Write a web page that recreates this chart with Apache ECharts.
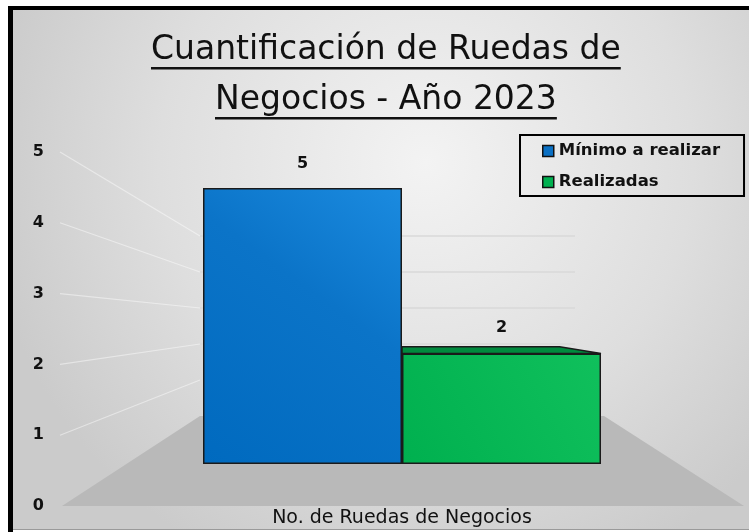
<!DOCTYPE html>
<html>
<head>
<meta charset="utf-8">
<script src="https://cdn.jsdelivr.net/npm/echarts@6/dist/echarts.min.js"></script>
<style>
  html, body { margin: 0; padding: 0; background: #ffffff; }
  #chart { width: 749px; height: 532px; }
</style>
</head>
<body>
<div id="chart"></div>
<script>
// ---- data ----
const categories = ['No. de Ruedas de Negocios'];
const seriesNames = ['Mínimo a realizar', 'Realizadas'];
const minimoValues = [5];
const realizadasValues = [2];
const yTicks = [0, 1, 2, 3, 4, 5];
const titleLines = ['Cuantificación de Ruedas de', 'Negocios - Año 2023'];

// ---- layout / style ----
const FONT = '"DejaVu Sans", sans-serif';
const TEXT = '#111111';
const yMin = yTicks[0], yMax = yTicks[yTicks.length - 1], yStep = yTicks[1] - yTicks[0];
const titleSize = 33;
const titleCenter = 386;

// label axis (left wall front edge)
const axisGrid = { left: 60, top: 152, width: 10, height: 354 };
// bar plot
const barGrid = { left: 203, top: 188, width: 398, height: 276 };
// back wall
const wallGrid = { left: 200, top: 236, width: 375, height: 180 };

function textWidth(str, font) {
  const ctx = document.createElement('canvas').getContext('2d');
  ctx.font = font;
  return ctx.measureText(str).width;
}
const titleWidths = titleLines.map(t => textWidth(t, 'normal ' + titleSize + 'px "DejaVu Sans"'));
const titleTops = [34, 84];
const underlineY = [68, 118];

const chart = echarts.init(document.getElementById('chart'), null, { renderer: 'canvas' });

const blueFill = new echarts.graphic.LinearGradient(0, 1, 1, 0, [
  { offset: 0, color: '#006abf' },
  { offset: 0.6, color: '#0b74c8' },
  { offset: 1, color: '#1b8be0' }
]);
const greenFill = new echarts.graphic.LinearGradient(0, 1, 1, 0, [
  { offset: 0, color: '#00b04f' },
  { offset: 1, color: '#10c05c' }
]);
const topFaceColors = ['#0a5fa8', '#008a3e'];

// top faces of the boxes (shallower the closer the bar is to eye level)
const topFaceData = [
  [0, minimoValues[0], 0],
  [0, realizadasValues[0], 1]
];

const bgFill = new echarts.graphic.RadialGradient(0.55, 0.3, 0.85, [
  { offset: 0, color: '#f3f3f3' },
  { offset: 0.6, color: '#dedede' },
  { offset: 1, color: '#cbcbcb' }
]);

const option = {
  backgroundColor: '#ffffff',
  animation: false,
  title: titleLines.map((t, i) => ({
    text: t,
    left: Math.round(titleCenter - titleWidths[i] / 2),
    top: titleTops[i],
    padding: 0,
    textStyle: { fontFamily: FONT, fontSize: titleSize, fontWeight: 'normal', color: TEXT }
  })),
  legend: {
    orient: 'vertical',
    left: 520,
    top: 135,
    padding: [6, 24, 4, 22],
    itemGap: 11,
    itemWidth: 11,
    itemHeight: 11,
    icon: 'rect',
    borderColor: '#000000',
    borderWidth: 2,
    textStyle: { fontFamily: FONT, fontSize: 16.5, fontWeight: 'bold', color: TEXT, lineHeight: 20 },
    data: [
      { name: seriesNames[0], itemStyle: { color: '#0a70c4', borderColor: '#111', borderWidth: 1.5 } },
      { name: seriesNames[1], itemStyle: { color: '#00b050', borderColor: '#111', borderWidth: 1.5 } }
    ]
  },
  grid: [
    Object.assign({ containLabel: false }, axisGrid),
    Object.assign({ containLabel: false }, barGrid),
    Object.assign({ containLabel: false }, wallGrid)
  ],
  xAxis: [
    { gridIndex: 0, type: 'value', show: false },
    {
      gridIndex: 1, type: 'category', data: categories,
      axisLine: { show: false }, axisTick: { show: false },
      axisLabel: { fontFamily: FONT, fontSize: 19, color: TEXT, margin: 45 }
    },
    { gridIndex: 2, type: 'value', show: false }
  ],
  yAxis: [
    {
      gridIndex: 0, type: 'value', min: yMin, max: yMax, interval: yStep,
      axisLine: { show: false }, axisTick: { show: false }, splitLine: { show: false },
      axisLabel: { fontFamily: FONT, fontSize: 16, fontWeight: 'bold', color: TEXT, margin: 16 }
    },
    { gridIndex: 1, type: 'value', min: yMin, max: yMax, show: false },
    {
      gridIndex: 2, type: 'value', min: yMin, max: yMax, interval: yStep,
      axisLine: { show: false }, axisTick: { show: false }, axisLabel: { show: false },
      splitLine: { show: true, lineStyle: { color: '#d9d9d9', width: 1.5 } }
    }
  ],
  series: [
    {
      name: seriesNames[0], type: 'bar', xAxisIndex: 1, yAxisIndex: 1,
      data: minimoValues, barGap: '0%', barCategoryGap: '0%', z: 3,
      itemStyle: { color: blueFill, borderColor: '#1a1a1a', borderWidth: 1.5 },
      label: { show: true, position: 'top', distance: 16, fontFamily: FONT, fontSize: 16, fontWeight: 'bold', color: TEXT }
    },
    {
      name: seriesNames[1], type: 'bar', xAxisIndex: 1, yAxisIndex: 1,
      data: realizadasValues, barGap: '0%', barCategoryGap: '0%', z: 3,
      itemStyle: { color: greenFill, borderColor: '#1a1a1a', borderWidth: 1.5 },
      label: { show: true, position: 'top', distance: 18, fontFamily: FONT, fontSize: 16, fontWeight: 'bold', color: TEXT }
    },
    {
      type: 'custom', xAxisIndex: 1, yAxisIndex: 1, z: 2, silent: true,
      data: topFaceData,
      renderItem: function (params, api) {
        const v = api.value(1);
        const depth = (yMax - v) * 2.3;
        if (depth <= 0) return null;
        const c = api.coord([api.value(0), v]);
        const w = api.size([1, 0])[0];
        const slot = api.value(2);
        const x0 = c[0] - w / 2 + slot * w / 2;
        const x1 = x0 + w / 2;
        return {
          type: 'polygon',
          shape: { points: [[x0, c[1]], [x0, c[1] - depth], [x1 - 6 * depth, c[1] - depth], [x1, c[1]]] },
          style: { fill: topFaceColors[slot], stroke: '#1a1a1a', lineWidth: 1.5 }
        };
      }
    }
  ],
  graphic: []
};

chart.setOption(option);

// frame, floor, side-wall gridlines and title underlines
const px = (axis, v) => chart.convertToPixel({ yAxisIndex: axis }, v);
const frontX = axisGrid.left;
const backX = wallGrid.left;
const floorFront = px(0, yMin), floorBack = px(2, yMin);
const floorSlope = (backX - frontX) / (floorFront - floorBack);
const floorRightBack = barGrid.left + barGrid.width + 3;
const floorRightFront = floorRightBack + (floorFront - floorBack) * floorSlope;

const graphics = [
  { type: 'rect', z: -100, shape: { x: 8, y: 6, width: 760, height: 523 }, style: { fill: bgFill } },
  { type: 'rect', z: -99, shape: { x: 8, y: 6, width: 760, height: 4 }, style: { fill: '#000' } },
  { type: 'rect', z: -99, shape: { x: 8, y: 6, width: 5, height: 526 }, style: { fill: '#000' } },
  { type: 'rect', z: -99, shape: { x: 13, y: 529, width: 760, height: 1 }, style: { fill: '#9a9a9a' } },
  {
    type: 'polygon', z: 1,
    shape: { points: [[frontX + 2, floorFront], [backX, floorBack], [floorRightBack, floorBack], [floorRightFront, floorFront]] },
    style: { fill: '#b9b9b9' }
  }
];
yTicks.filter(v => v !== yMin).forEach(v => {
  graphics.push({
    type: 'line', z: 0,
    shape: { x1: frontX, y1: px(0, v), x2: backX, y2: px(2, v) },
    style: { stroke: 'rgba(255,255,255,0.45)', lineWidth: 1.2 }
  });
});
titleLines.forEach((t, i) => {
  const x0 = Math.round(titleCenter - titleWidths[i] / 2);
  graphics.push({
    type: 'rect', z: 5,
    shape: { x: x0, y: underlineY[i] - 1, width: titleWidths[i], height: 2.5 },
    style: { fill: TEXT }
  });
});
chart.setOption({ graphic: graphics });
</script>
</body>
</html>
